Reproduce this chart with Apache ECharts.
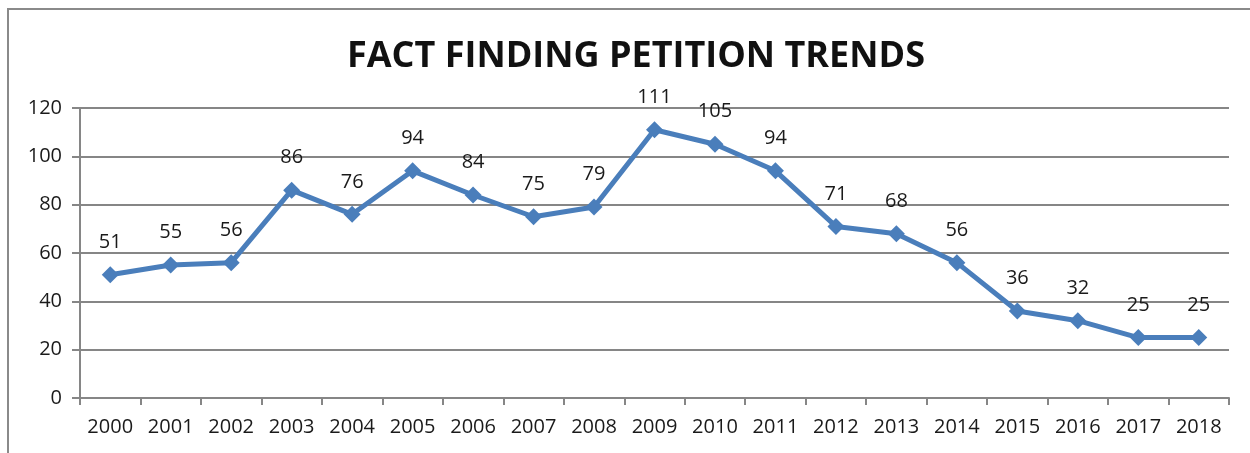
<!DOCTYPE html>
<html>
<head>
<meta charset="utf-8">
<script src="https://cdn.jsdelivr.net/npm/echarts@6/dist/echarts.min.js"></script>
<style>html,body{margin:0;padding:0;background:#fff;}#c{width:1250px;height:453px;}</style>
</head>
<body>
<div id="c"></div>
<script>
var years = ['2000','2001','2002','2003','2004','2005','2006','2007','2008','2009','2010','2011','2012','2013','2014','2015','2016','2017','2018'];
var petitions = [51,55,56,86,76,94,84,75,79,111,105,94,71,68,56,36,32,25,25];
var titleText = 'FACT FINDING PETITION TRENDS';

var chart = echarts.init(document.getElementById('c'));
chart.setOption({
  animation: false,
  backgroundColor: '#fff',
  title: {
    text: titleText,
    left: 631, top: 34, textAlign: 'center',
    textStyle: { fontFamily: 'Open Sans', fontWeight: 'bold', fontSize: 36, color: '#111' }
  },
  graphic: [{
    type: 'rect', shape: { x: 8, y: 9, width: 1400, height: 600 },
    style: { fill: 'none', stroke: '#8a8a8a', lineWidth: 2 }, silent: true
  }],
  grid: { left: 80, right: 21, top: 108, bottom: 55 },
  xAxis: {
    type: 'category', data: years, boundaryGap: true,
    axisLine: { lineStyle: { color: '#868686', width: 2 } },
    axisTick: { show: true, length: 7, lineStyle: { color: '#868686', width: 2 } },
    axisLabel: { margin: 19, fontFamily: 'Open Sans', fontSize: 20, color: '#1a1a1a' },
    splitLine: { show: false }
  },
  yAxis: {
    type: 'value', min: 0, max: 120, interval: 20,
    axisLine: { show: true, lineStyle: { color: '#868686', width: 2 } },
    axisTick: { show: true, length: 8, lineStyle: { color: '#868686', width: 2 } },
    axisLabel: { margin: 18, fontFamily: 'Open Sans', fontSize: 20, color: '#1a1a1a' },
    splitLine: { show: true, lineStyle: { color: '#868686', width: 2 } }
  },
  series: [{
    type: 'line', data: petitions,
    symbol: 'diamond', symbolSize: 17,
    lineStyle: { color: '#4a7ebb', width: 5 },
    itemStyle: { color: '#4a7ebb' },
    label: { show: true, position: 'top', distance: 14, fontFamily: 'Open Sans', fontSize: 20, color: '#1a1a1a' }
  }]
});
</script>
</body>
</html>
